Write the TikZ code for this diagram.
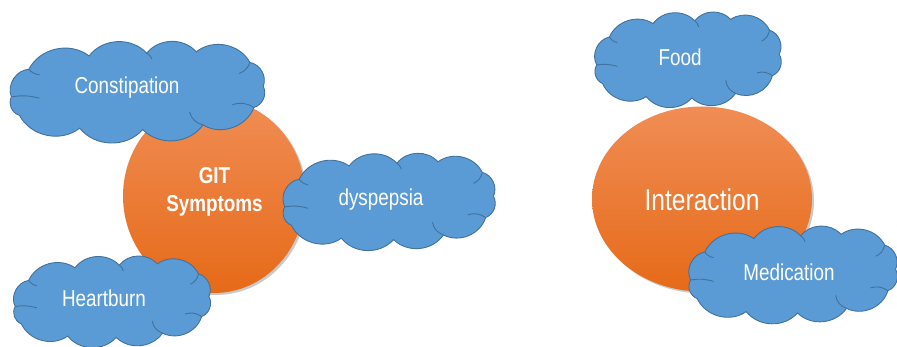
\documentclass[tikz,border=0pt]{standalone}
\usepackage{fontspec}
\setmainfont{Liberation Sans}[FakeStretch=0.82]
\usetikzlibrary{shapes.geometric,shadows}
\definecolor{cloudfill}{HTML}{5B9BD5}
\definecolor{cloudline}{HTML}{41719C}
\definecolor{orTop}{HTML}{F08D55}
\definecolor{orBot}{HTML}{E66A18}
\tikzset{
  cloudline/.style={draw=cloudline, line width=0.9pt},
  pics/pptcloud/.style 2 args={code={
    \begin{scope}[x=#1pt,y=#2pt]
    \path[cloudline, fill=cloudfill]
      (0.95,0.08) to[bend right=50] (0.85,0.6) to[bend right=50] (0.45,0.83)
      to[bend right=50] (0.08,0.8) to[bend right=50] (-0.35,0.74)
      to[bend right=50] (-0.8,0.45) to[bend right=55] (-0.93,-0.15)
      to[bend right=50] (-0.87,-0.55) to[bend right=50] (-0.42,-0.83)
      to[bend right=50] (0.05,-0.86) to[bend right=50] (0.5,-0.76)
      to[bend right=50] (0.88,-0.38) to[bend right=50] (0.95,0.08) -- cycle;
    \draw[cloudline] (-0.93,-0.15) to[bend left=12] (-0.72,-0.18);
    \draw[cloudline] (0.85,0.6) to[bend left=25] (0.77,0.36);
    \draw[cloudline] (0.5,-0.76) to[bend left=30] (0.4,-0.48);
    \draw[cloudline] (0.88,-0.38) to[bend right=25] (0.72,-0.32);
    \draw[cloudline] (0.08,0.8) to[bend left=20] (0.12,0.67);
    \draw[cloudline] (-0.8,0.45) to[bend right=20] (-0.72,0.33);
    \end{scope}
  }},
  cloudtext/.style={text=white, font=\fontsize{23}{26}\selectfont},
  orangeell/.style={ellipse, top color=orTop, bottom color=orBot, draw=none,
    drop shadow={opacity=0.35, shadow xshift=2pt, shadow yshift=-2pt, fill=black!60}},
}
\begin{document}
\begin{tikzpicture}[x=1pt,y=-1pt]
\useasboundingbox (0,0) rectangle (897,347);
% left group
\node[orangeell, minimum width=182pt, minimum height=194pt] (git) at (214,196) {};
\node[text=white, font=\bfseries\fontsize{23}{28}\selectfont, align=center] (gitt) at (214.5,192) {GIT\\Symptoms};
\pic at (136,90) {pptcloud={134}{46}};
\node[cloudtext] (cont) at (127,88) {Constipation};
\pic at (388,200) {pptcloud={111}{46}};
\node[cloudtext] (dyst) at (381,200) {dyspepsia};
\pic at (111,300) {pptcloud={103}{43.5}};
\node[cloudtext] (hbt) at (104,298) {Heartburn};
% right group
\node[orangeell, minimum width=220pt, minimum height=185pt] (int) at (702,199) {};
\node[text=white, font=\fontsize{30}{34}\selectfont] (intt) at (702,200) {Interaction};
\pic at (687,58) {pptcloud={97}{46.5}};
\node[cloudtext] (foodt) at (680,57) {Food};
\pic at (792,273) {pptcloud={109}{46.5}};
\node[cloudtext] (medt) at (789,272) {Medication};
\end{tikzpicture}
\end{document}
